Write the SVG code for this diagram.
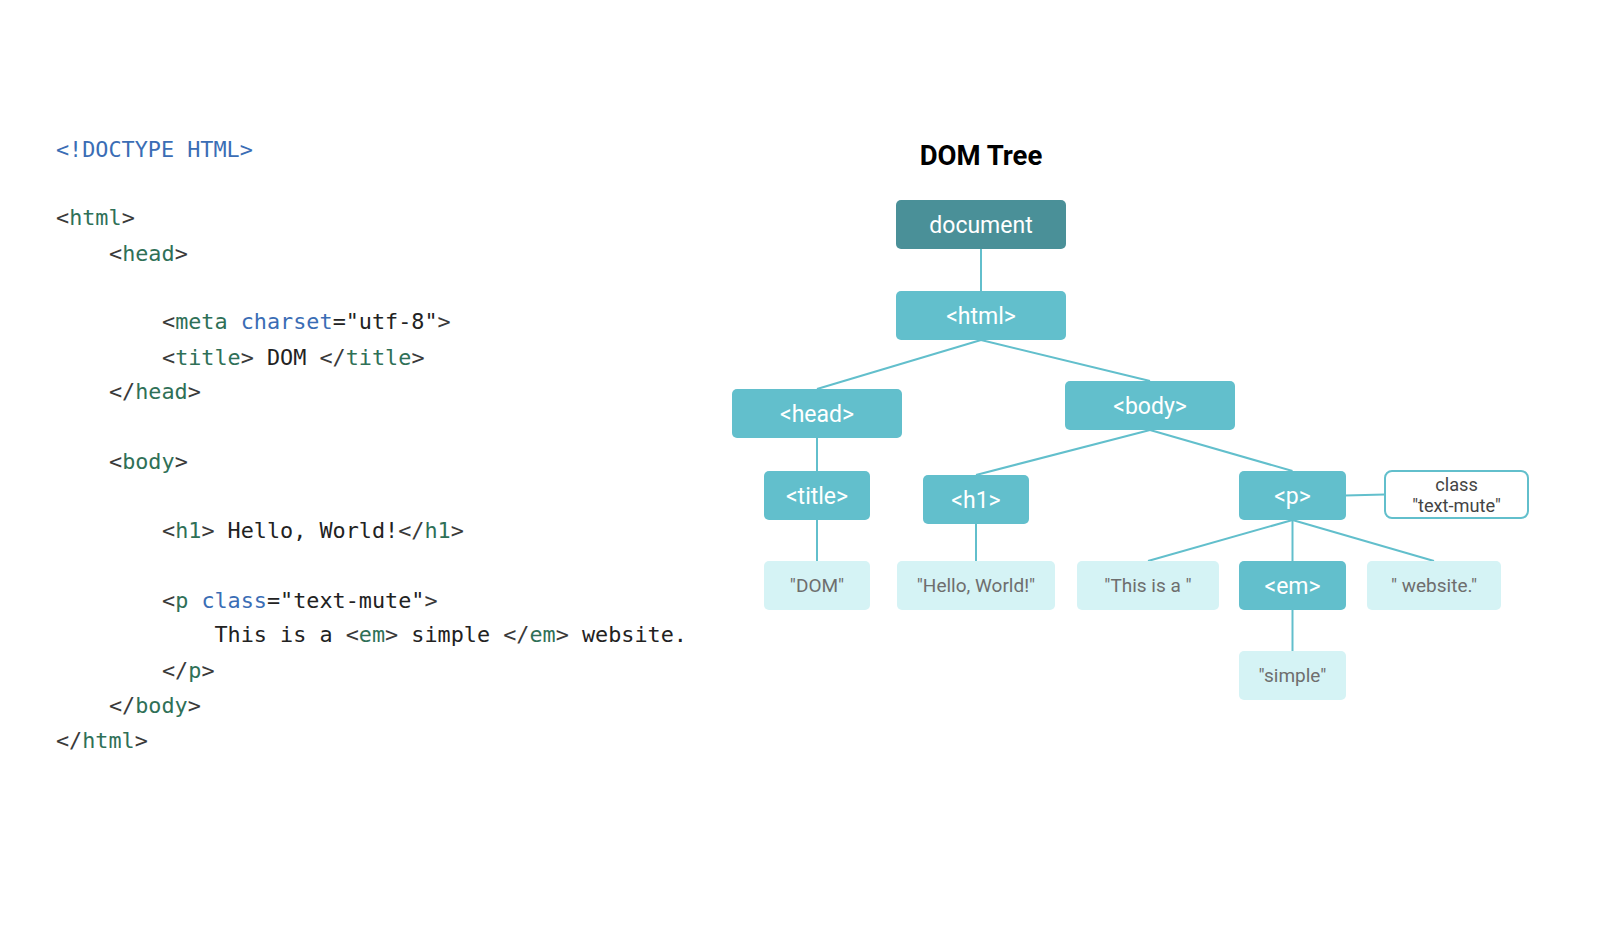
<svg xmlns="http://www.w3.org/2000/svg" width="1600" height="944" viewBox="0 0 1600 944">
<style>
.code{font-family:"DejaVu Sans Mono","Liberation Mono",monospace;font-size:21.8px;fill:#222}
.b{fill:#3a3a3a}
.t{fill:#2f7057}
.a{fill:#3a6db5}
.d{fill:#3a6db5}
.n rect{fill:#62bfcc}
.n text{font-family:Roboto,"Liberation Sans",sans-serif;font-size:23px;fill:#fff;text-anchor:middle}
.l rect{fill:#d5f3f5}
.l text{font-family:Roboto,"Liberation Sans",sans-serif;font-size:19px;fill:#6e6e6e;text-anchor:middle}
.conn line{stroke:#62bfcc;stroke-width:2}
</style>
<rect width="1600" height="944" fill="#fff"/>
<g id="code">
<text class="code" x="56" y="157"><tspan class="d">&lt;!DOCTYPE HTML&gt;</tspan></text>
<text class="code" x="56" y="225"><tspan class="b">&lt;</tspan><tspan class="t">html</tspan><tspan class="b">&gt;</tspan></text>
<text class="code" x="109" y="261"><tspan class="b">&lt;</tspan><tspan class="t">head</tspan><tspan class="b">&gt;</tspan></text>
<text class="code" x="162" y="329"><tspan class="b">&lt;</tspan><tspan class="t">meta</tspan> <tspan class="a">charset</tspan>="utf-8"<tspan class="b">&gt;</tspan></text>
<text class="code" x="162" y="365"><tspan class="b">&lt;</tspan><tspan class="t">title</tspan><tspan class="b">&gt;</tspan> DOM <tspan class="b">&lt;/</tspan><tspan class="t">title</tspan><tspan class="b">&gt;</tspan></text>
<text class="code" x="109" y="399"><tspan class="b">&lt;/</tspan><tspan class="t">head</tspan><tspan class="b">&gt;</tspan></text>
<text class="code" x="109" y="469"><tspan class="b">&lt;</tspan><tspan class="t">body</tspan><tspan class="b">&gt;</tspan></text>
<text class="code" x="162" y="538"><tspan class="b">&lt;</tspan><tspan class="t">h1</tspan><tspan class="b">&gt;</tspan> Hello, World!<tspan class="b">&lt;/</tspan><tspan class="t">h1</tspan><tspan class="b">&gt;</tspan></text>
<text class="code" x="162" y="608"><tspan class="b">&lt;</tspan><tspan class="t">p</tspan> <tspan class="a">class</tspan>="text-mute"<tspan class="b">&gt;</tspan></text>
<text class="code" x="214.5" y="642">This is a <tspan class="b">&lt;</tspan><tspan class="t">em</tspan><tspan class="b">&gt;</tspan> simple <tspan class="b">&lt;/</tspan><tspan class="t">em</tspan><tspan class="b">&gt;</tspan> website.</text>
<text class="code" x="162" y="678"><tspan class="b">&lt;/</tspan><tspan class="t">p</tspan><tspan class="b">&gt;</tspan></text>
<text class="code" x="109" y="713"><tspan class="b">&lt;/</tspan><tspan class="t">body</tspan><tspan class="b">&gt;</tspan></text>
<text class="code" x="56" y="748"><tspan class="b">&lt;/</tspan><tspan class="t">html</tspan><tspan class="b">&gt;</tspan></text>
</g>
<text x="981" y="165" font-family="Roboto,'Liberation Sans',sans-serif" font-size="27.5" font-weight="bold" fill="#000" text-anchor="middle">DOM Tree</text>
<g class="conn" id="connectors">
<line x1="981" y1="249" x2="981" y2="291"/>
<line x1="981" y1="340" x2="817" y2="389"/>
<line x1="981" y1="340" x2="1150" y2="381"/>
<line x1="817" y1="438" x2="817" y2="471"/>
<line x1="1150" y1="430" x2="976" y2="475"/>
<line x1="1150" y1="430" x2="1292.5" y2="471"/>
<line x1="817" y1="520" x2="817" y2="561"/>
<line x1="976" y1="524" x2="976" y2="561"/>
<line x1="1292.5" y1="520" x2="1148" y2="561"/>
<line x1="1292.5" y1="520" x2="1292.5" y2="561"/>
<line x1="1292.5" y1="520" x2="1434" y2="561"/>
<line x1="1292.5" y1="610" x2="1292.5" y2="651"/>
<line x1="1345" y1="495.5" x2="1385" y2="494.5"/>
</g>
<g id="document" class="n"><rect x="896" y="200" width="170" height="49" rx="5" style="fill:#4a9098"/><text x="981" y="232.5">document</text></g>
<g id="html" class="n"><rect x="896" y="291" width="170" height="49" rx="5"/><text x="981" y="323.5">&lt;html&gt;</text></g>
<g id="head" class="n"><rect x="732" y="389" width="170" height="49" rx="5"/><text x="817" y="421.5">&lt;head&gt;</text></g>
<g id="body" class="n"><rect x="1065" y="381" width="170" height="49" rx="5"/><text x="1150" y="413.5">&lt;body&gt;</text></g>
<g id="title" class="n"><rect x="764" y="471" width="106" height="49" rx="5"/><text x="817" y="503.5">&lt;title&gt;</text></g>
<g id="h1" class="n"><rect x="923" y="475" width="106" height="49" rx="5"/><text x="976" y="507.5">&lt;h1&gt;</text></g>
<g id="p" class="n"><rect x="1239" y="471" width="107" height="49" rx="5"/><text x="1292.5" y="503.5">&lt;p&gt;</text></g>
<g id="em" class="n"><rect x="1239" y="561" width="107" height="49" rx="5"/><text x="1292.5" y="593.5">&lt;em&gt;</text></g>
<g id="class-attr"><rect x="1385" y="471" width="143" height="47" rx="7" fill="#fff" stroke="#62bfcc" stroke-width="2"/><text font-family="Roboto,'Liberation Sans',sans-serif" font-size="18.2" fill="#444" text-anchor="middle"><tspan x="1456.5" y="490.5">class</tspan><tspan x="1456.5" y="512">"text-mute"</tspan></text></g>
<g id="t-dom" class="l"><rect x="764" y="561" width="106" height="49" rx="5"/><text x="817" y="592">"DOM"</text></g>
<g id="t-hello" class="l"><rect x="897" y="561" width="158" height="49" rx="5"/><text x="976" y="592">"Hello, World!"</text></g>
<g id="t-this" class="l"><rect x="1077" y="561" width="142" height="49" rx="5"/><text x="1148" y="592" xml:space="preserve">"This is a "</text></g>
<g id="t-website" class="l"><rect x="1367" y="561" width="134" height="49" rx="5"/><text x="1434" y="592" xml:space="preserve">" website."</text></g>
<g id="t-simple" class="l"><rect x="1239" y="651" width="107" height="49" rx="5"/><text x="1292.5" y="682">"simple"</text></g>
</svg>
